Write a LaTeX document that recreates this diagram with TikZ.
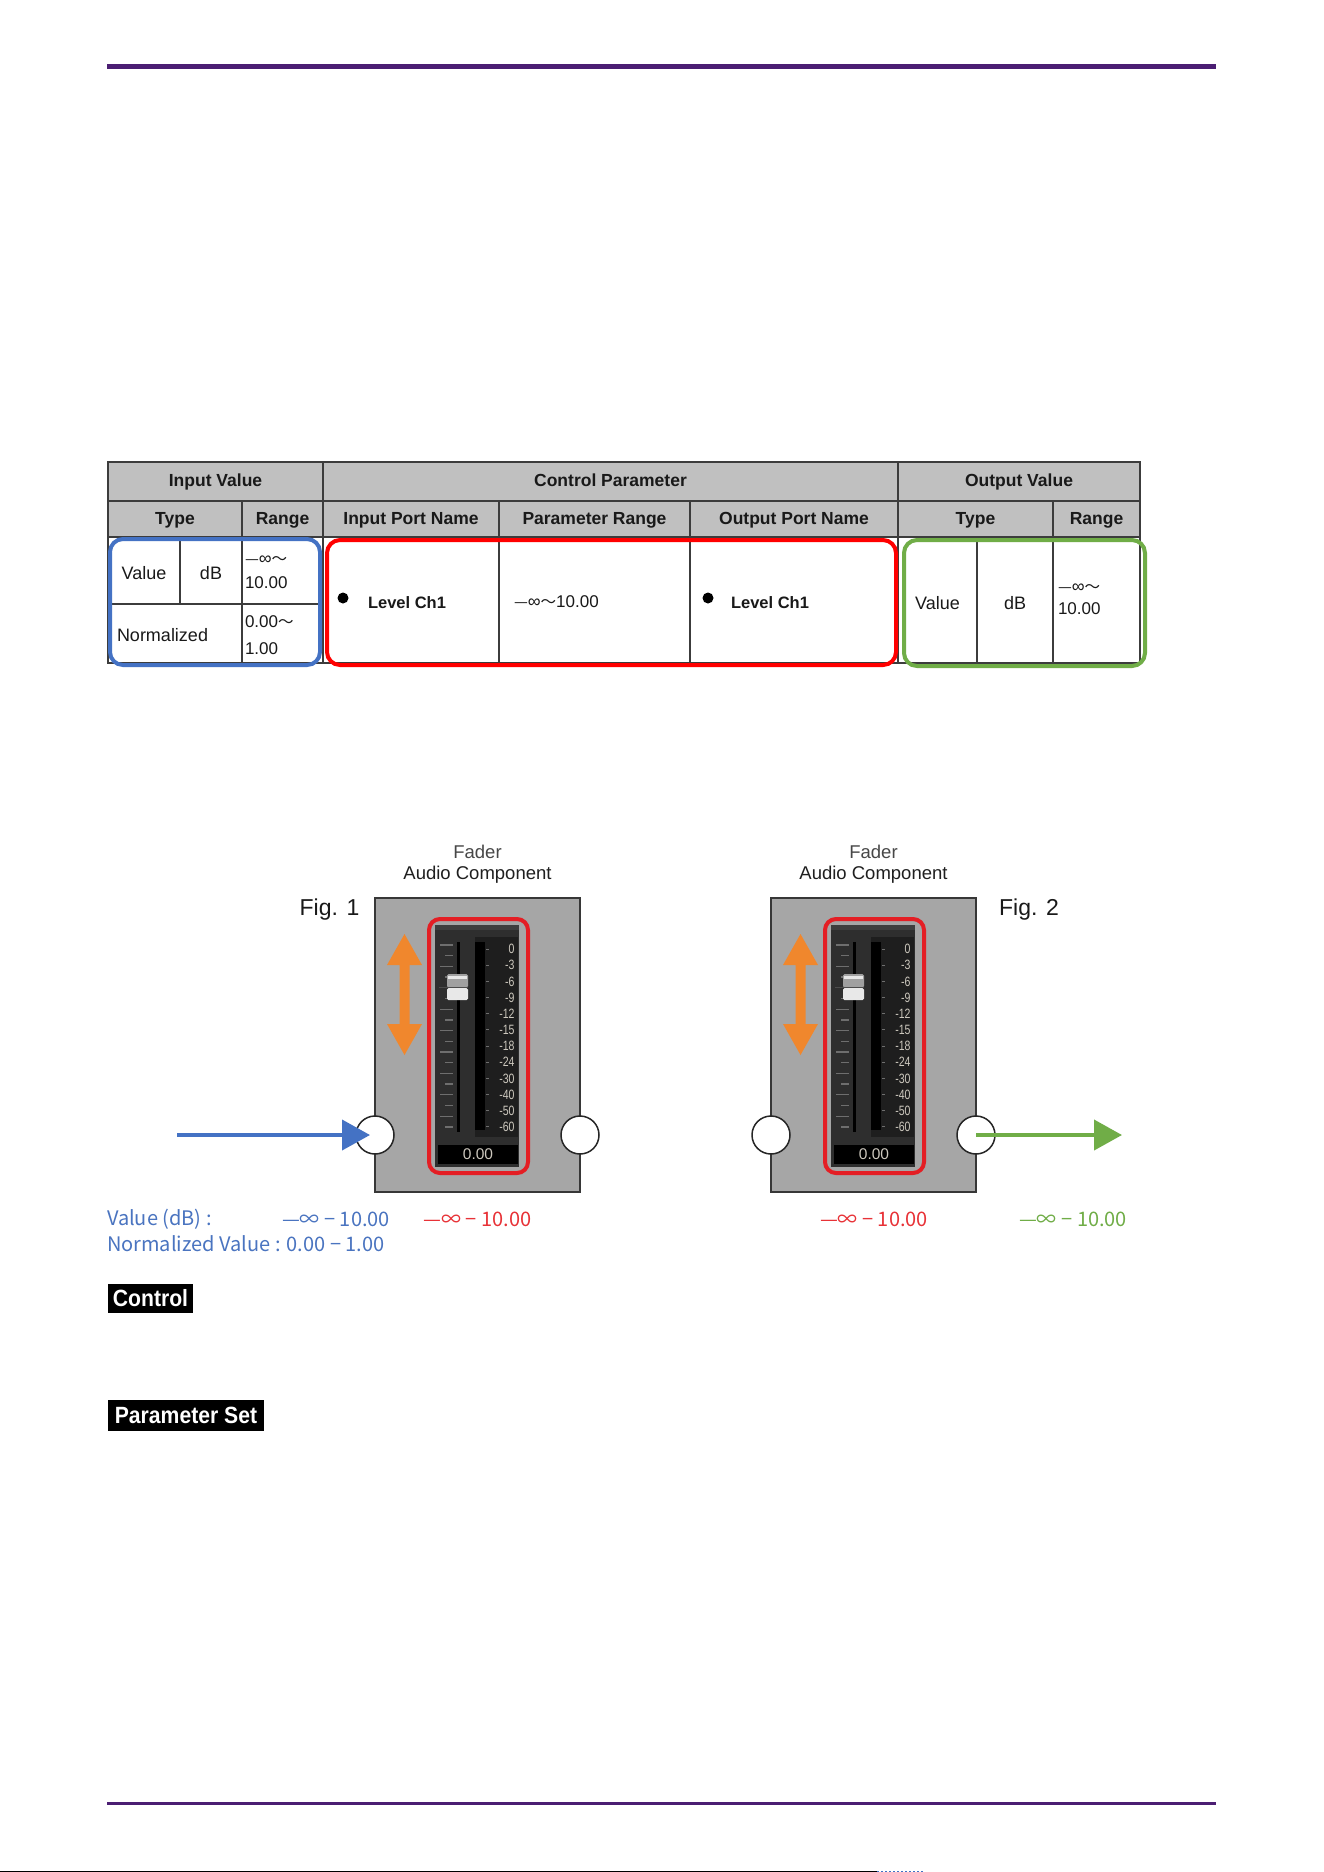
\documentclass[tikz,border=0pt]{standalone}
\usepackage{fontspec}
\setmainfont{Liberation Sans}
\newfontfamily\cjkfont{Noto Sans CJK JP}
\newfontfamily\narrowfont[FakeStretch=0.78]{Liberation Sans}
\newfontfamily\badgefont[FakeStretch=0.9]{Liberation Sans Bold}
\usetikzlibrary{arrows.meta}
\definecolor{purp}{RGB}{75,30,115}
\definecolor{hdrgray}{RGB}{192,192,192}
\definecolor{tline}{RGB}{60,60,60}
\definecolor{hlblue}{RGB}{68,114,196}
\definecolor{hlred}{RGB}{255,0,0}
\definecolor{hlgreen}{RGB}{112,173,71}
\definecolor{fred}{RGB}{228,30,36}
\definecolor{forange}{RGB}{240,135,45}
\definecolor{boxgray}{RGB}{166,166,166}
\definecolor{boxedge}{RGB}{55,55,55}
\definecolor{panel}{RGB}{46,46,46}
\definecolor{panelhi}{RGB}{62,62,62}
\definecolor{meterbg}{RGB}{30,30,30}
\definecolor{tickc}{RGB}{110,110,110}
\definecolor{lblgray}{RGB}{205,200,190}
\definecolor{knobgray}{RGB}{160,160,160}
\definecolor{knoblight}{RGB}{232,232,232}
\definecolor{txtblue}{RGB}{74,116,192}
\definecolor{txtred}{RGB}{232,50,55}
\definecolor{txtgreen}{RGB}{112,173,71}
\newcommand{\infrange}{{\cjkfont\fontsize{15.5}{19}\selectfont —}{\fontsize{18}{19}\selectfont ∞}{\cjkfont\fontsize{15.5}{19}\selectfont ～}}
\tikzset{
  hdr/.style={font=\fontsize{17.5}{19}\selectfont\bfseries, text=black!90, text height=12.5pt, text depth=3.5pt},
  cell/.style={font=\fontsize{18}{20}\selectfont, text=black!90},
  boldcell/.style={font=\fontsize{16.5}{19}\selectfont\bfseries, text=black!90},
  fadertitle/.style={font=\fontsize{18.5}{20}\selectfont, text=black!88},
  figlabel/.style={font=\fontsize{23}{25}\selectfont, text=black!90},
  scalelab/.style={font=\narrowfont\fontsize{13.5}{14}\selectfont, text=lblgray},
  disptext/.style={font=\fontsize{15.5}{16}\selectfont, text=lblgray},
  port/.style={circle, minimum size=38pt, fill=white, draw=black!85, line width=1.5pt},
  rangelab/.style={font=\cjkfont\fontsize{20}{22}\selectfont},
  badge/.style={fill=black, text=white, font=\badgefont\fontsize{23.5}{24}\selectfont},
  fader/.pic={
    \node[fadertitle, text=black!72] (-t1) at (102.5,-46) {Fader};
    \node[fadertitle] (-t2) at (102.5,-23) {Audio Component};
    \draw[fill=boxgray, draw=boxedge, line width=2pt] (0,0) rectangle (205,294);
    \fill[panel] (60,27) rectangle (144,269);
    \fill[panelhi] (60,27) rectangle (144,32);
    \fill[meterbg] (100,39) rectangle (143,239);
    \fill[black] (100,44) rectangle (110,232);
    \fill[black] (82,44) rectangle (84.5,234);
    \foreach \i in {0,...,17}{
      \pgfmathsetmacro{\ty}{47+\i*10.7}
      \ifodd\i\relax
        \draw[tickc, line width=1.3pt] (70,\ty) -- (78,\ty);
      \else
        \draw[tickc, line width=1.3pt] (65,\ty) -- (78,\ty);
      \fi
    }
    \fill[knobgray, rounded corners=1.5pt] (72,76) rectangle (93,89.5);
    \fill[white!75!knobgray] (73,77.5) rectangle (92,81);
    \fill[knoblight, rounded corners=1.5pt] (72,90) rectangle (93,102);
    \draw[black!70, line width=1pt] (64,89.7) -- (93,89.7);
    \foreach \lab [count=\k from 0] in {0,-3,-6,-9,-12,-15,-18,-24,-30,-40,-50,-60}{
      \pgfmathsetmacro{\ly}{51+\k*16.18}
      \node[scalelab, anchor=east] (-l\k) at (139.5,\ly) {\lab};
      \draw[tickc, line width=1pt] (111,\ly) -- (114,\ly);
    }
    \fill[black] (63,247) rectangle (143,266);
    \node[disptext] (-disp) at (103,256.5) {0.00};
    \draw[fred, line width=4pt, rounded corners=11pt] (54,21) rectangle (153,275);
    \fill[forange] (29.5,36) -- (47,67) -- (34.5,67) -- (34.5,126) -- (47,126)
      -- (29.5,157) -- (12,126) -- (24.5,126) -- (24.5,67) -- (12,67) -- cycle;
    \node[port] (-in) at (0,237) {};
    \node[port] (-out) at (205,237) {};
  }
}
\begin{document}
\begin{tikzpicture}[x=1pt,y=-1pt, every node/.style={inner sep=0pt, outer sep=0pt}]
\path[use as bounding box, fill=white] (0,0) rectangle (1324,1872);

% page rules
\fill[purp] (107,64) rectangle (1216,69);
\fill[purp] (107,1802) rectangle (1216,1805);
\draw[black, line width=1pt] (0,1871.5) -- (877,1871.5);
\draw[hlblue, dash pattern=on 2pt off 2pt, line width=1pt] (877,1871.5) -- (923,1871.5);

% ---------- table ----------
\fill[hdrgray] (108,462) rectangle (1140,537);
\fill[white] (108,537) rectangle (1140,663);
\draw[tline, line width=1.5pt] (108,462) rectangle (1140,663);
\draw[tline, line width=1.5pt] (108,501) -- (1140,501) (108,537) -- (1140,537) (108,604) -- (323,604);
\draw[tline, line width=1.5pt] (323,462) -- (323,663) (898,462) -- (898,663)
  (242,501) -- (242,663) (499,501) -- (499,663) (690,501) -- (690,663) (1053,501) -- (1053,663)
  (180,537) -- (180,604) (977,537) -- (977,663);

\node[hdr] (hIn) at (215.5,482) {Input Value};
\node[hdr] (hCP) at (610.5,482) {Control Parameter};
\node[hdr] (hOut) at (1019,482) {Output Value};
\node[hdr] (hT1) at (175,519.5) {Type};
\node[hdr] (hR1) at (282.5,519.5) {Range};
\node[hdr] (hIP) at (411,519.5) {Input Port Name};
\node[hdr] (hPR) at (594.5,519.5) {Parameter Range};
\node[hdr] (hOP) at (794,519.5) {Output Port Name};
\node[hdr] (hT2) at (975.5,519.5) {Type};
\node[hdr] (hR2) at (1096.5,519.5) {Range};

\node[cell] (cVal) at (144,573) {Value};
\node[cell] (cdB) at (211,573) {dB};
\node[cell, anchor=west, align=left, font=\fontsize{17}{24}\selectfont] (cR1) at (245,572) {\infrange\\10.00};
\node[cell, anchor=west] (cNorm) at (117,635) {Normalized};
\node[cell, anchor=west, align=left, font=\fontsize{17}{27}\selectfont] (cR2) at (245,635) {0.00{\cjkfont\fontsize{15.5}{19}\selectfont ～}\\1.00};
\fill[black] (343,598) circle (5.5pt);
\node[boldcell, anchor=west] (cLv1) at (368,603) {Level Ch1};
\node[cell, anchor=west, font=\fontsize{17}{20}\selectfont] (cPR) at (514,602) {\infrange10.00};
\fill[black] (708,598) circle (5.5pt);
\node[boldcell, anchor=west] (cLv2) at (731,603) {Level Ch1};
\node[cell] (cVal2) at (937.5,603) {Value};
\node[cell] (cdB2) at (1015,603) {dB};
\node[cell, anchor=west, align=left, font=\fontsize{17}{22}\selectfont] (cR3) at (1058,599) {\infrange\\10.00};

\draw[hlblue, line width=4pt, rounded corners=13pt] (110,539) rectangle (320,665);
\draw[hlred, line width=4pt, rounded corners=13pt] (327,540) rectangle (896,665);
\draw[hlgreen, line width=4pt, rounded corners=13pt] (904,540) rectangle (1145,666);

% ---------- figures ----------
\pic (f1) at (375,898) {fader};
\pic (f2) at (771,898) {fader};
\node[figlabel] (fig1) at (329.5,910) {Fig. 1};
\node[figlabel] (fig2) at (1029,910) {Fig. 2};

\coordinate (bstart) at (177,1135);
\draw[hlblue, line width=4pt, -{Triangle[length=28pt,width=30pt]}] (bstart) -- ([xshift=-5pt]f1-in.center);
\coordinate (gend) at (1122,1135);
\draw[hlgreen, line width=4pt, -{Triangle[length=28pt,width=30pt]}] (f2-out.center) -- (gend);

% ---------- range labels ----------
\node[rangelab, text=txtblue, anchor=west] (lv) at (107,1219) {Value (dB) :};
\node[rangelab, text=txtblue] (lvb) at (336,1219) {—∞ − 10.00};
\node[rangelab, text=txtred] (lvr1) at (477.5,1219) {—∞ − 10.00};
\node[rangelab, text=txtblue, anchor=west] (ln) at (107,1244) {Normalized Value : 0.00 − 1.00};
\node[rangelab, text=txtred] (lvr2) at (874,1219) {—∞ − 10.00};
\node[rangelab, text=txtgreen] (lvg) at (1073,1219) {—∞ − 10.00};

% ---------- badges ----------
\node[badge, minimum width=85pt, minimum height=29pt] (ctl) at (150.5,1298.5) {Control};
\node[badge, minimum width=156pt, minimum height=31pt] (pset) at (186,1415.5) {Parameter Set};
\end{tikzpicture}
\end{document}
